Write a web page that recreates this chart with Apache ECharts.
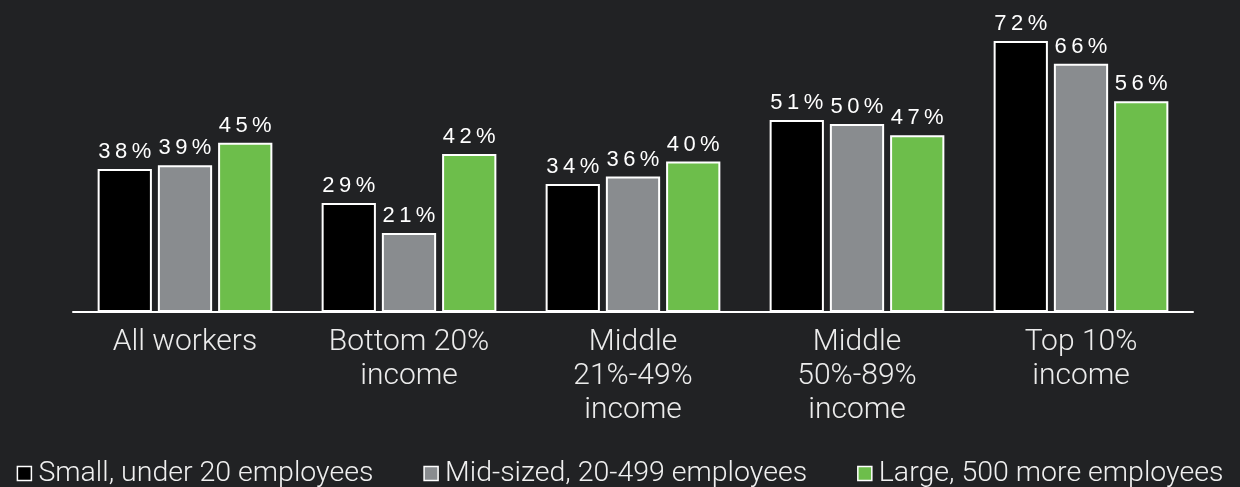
<!DOCTYPE html>
<html>
<head>
<meta charset="utf-8">
<script src="https://cdn.jsdelivr.net/npm/echarts@6/dist/echarts.min.js"></script>
<style>
  html, body { margin: 0; padding: 0; background: #212224; }
  #chart { width: 1240px; height: 487px; }
</style>
</head>
<body>
<div id="chart"></div>
<script>
// Share of workers by income group and employer size (%)
const categories = ['All workers', 'Bottom 20%\nincome', 'Middle\n21%-49%\nincome', 'Middle\n50%-89%\nincome', 'Top 10%\nincome'];
const seriesNames = ['Small, under 20 employees', 'Mid-sized, 20-499 employees', 'Large, 500 more employees'];
const smallValues = [38, 29, 34, 51, 72];
const midValues = [39, 21, 36, 50, 66];
const largeValues = [45, 42, 40, 47, 56];
const seriesColors = ['#000000', '#898c8f', '#6dbe4b'];

const chart = echarts.init(document.getElementById('chart'));

// Spread the characters of a value label apart with thin spaces
const spaced = p => (p.value + '%').split('').join('\u2009');

const makeSeries = (name, data, color) => ({
  name: name,
  type: 'bar',
  data: data,
  barGap: '11%',
  barCategoryGap: '22%',
  itemStyle: { color: color, borderColor: '#ffffff', borderWidth: 2 },
  label: {
    show: true,
    position: 'top',
    distance: 6,
    formatter: spaced,
    color: '#ffffff',
    fontFamily: 'Liberation Sans',
    fontSize: 22
  }
});

chart.setOption({
  backgroundColor: '#212224',
  animation: false,
  grid: { left: 73, right: 47, top: 11, bottom: 175, containLabel: false },
  legend: {
    top: 454,
    left: 'center',
    icon: 'rect',
    itemWidth: 14,
    itemHeight: 14,
    itemGap: 50,
    textStyle: { color: '#f0f0f0', fontFamily: 'Roboto', fontWeight: 300, fontSize: 28.5, padding: [0, 0, 0, 2] },
    itemStyle: { borderColor: '#ffffff', borderWidth: 1.5 },
    data: seriesNames
  },
  xAxis: {
    type: 'category',
    data: categories,
    axisLine: { lineStyle: { color: '#ffffff', width: 2 } },
    axisTick: { show: false },
    axisLabel: {
      interval: 0,
      margin: 13,
      color: '#ececec',
      fontFamily: 'Roboto',
      fontWeight: 300,
      fontSize: 30,
      lineHeight: 34
    }
  },
  yAxis: {
    type: 'value',
    min: 0,
    max: 80,
    show: false,
    splitLine: { show: false }
  },
  series: [
    makeSeries(seriesNames[0], smallValues, seriesColors[0]),
    makeSeries(seriesNames[1], midValues, seriesColors[1]),
    makeSeries(seriesNames[2], largeValues, seriesColors[2])
  ]
});
</script>
</body>
</html>
